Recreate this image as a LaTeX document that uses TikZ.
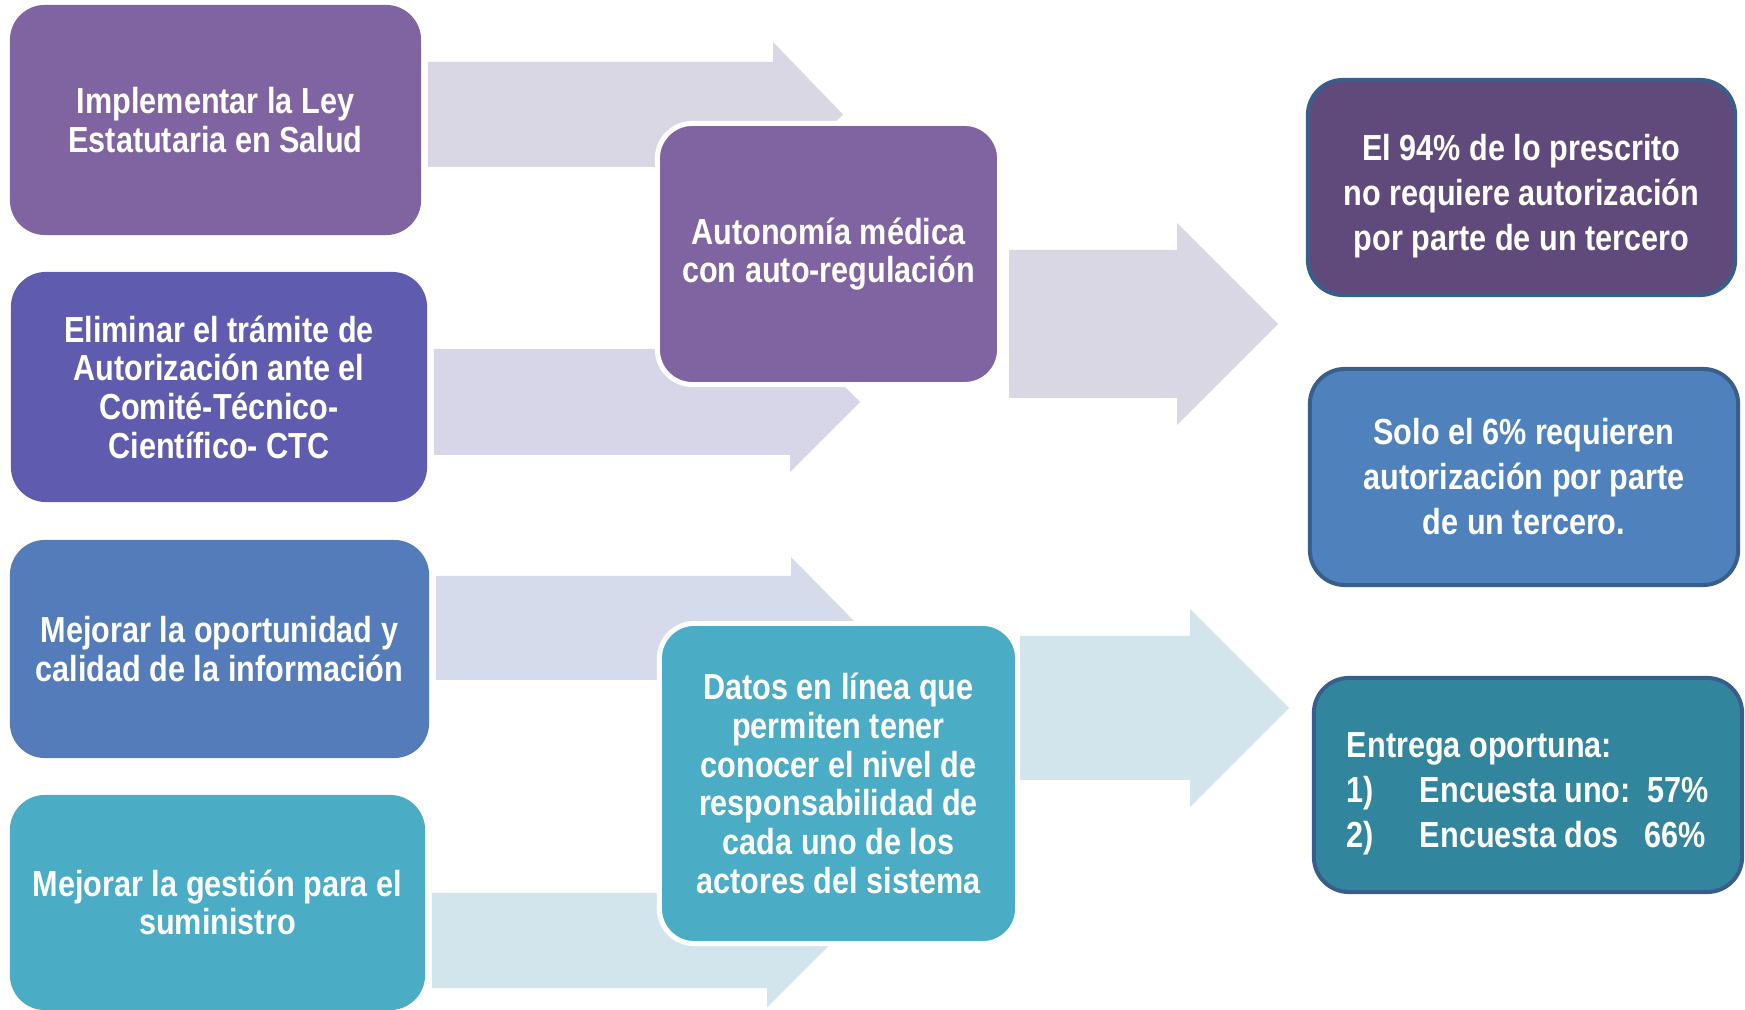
\documentclass[tikz,border=0pt]{standalone}
\usepackage{fontspec}
\setmainfont{Liberation Sans}[FakeStretch=0.845]
\usepackage{tikz}
\usetikzlibrary{calc,backgrounds}
\definecolor{lila}{HTML}{8064A2}
\definecolor{indigo}{HTML}{5F5BAE}
\definecolor{azul}{HTML}{547CBA}
\definecolor{aqua}{HTML}{4BACC6}
\definecolor{uva}{HTML}{604A7B}
\definecolor{cielo}{HTML}{4F81BD}
\definecolor{petroleo}{HTML}{31859C}
\definecolor{borde}{HTML}{3A5E8C}
\definecolor{fa}{HTML}{DAD7E5}
\definecolor{fb}{HTML}{D7D6E8}
\definecolor{fc}{HTML}{D5DBEA}
\definecolor{fd}{HTML}{D3E5EC}

\begin{document}
\begin{tikzpicture}[x=0.01cm, y=-0.01cm,
  caja/.style={rounded corners=0.35cm, inner sep=0pt, align=center, text=white,
    font=\bfseries\fontsize{10.3}{11}\selectfont},
  centro/.style={caja, draw=white, line width=0.05cm},
  meta/.style={caja, draw=borde, line width=0.04cm,
    font=\bfseries\fontsize{10.3}{12.8}\selectfont},
  flecha/.style n args={4}{to path={
    ($(\tikztostart)+(#1,-#2)$) -- ($(\tikztotarget)+(-#4,-#2)$)
    -- ($(\tikztotarget)+(-#4,-#3)$) -- (\tikztotarget)
    -- ($(\tikztotarget)+(-#4,#3)$) -- ($(\tikztotarget)+(-#4,#2)$)
    -- ($(\tikztostart)+(#1,#2)$) -- cycle}}]
\useasboundingbox (0,0) rectangle (1745,1010);

% objetivos
\node[caja, fill=lila, minimum width=4.11cm, minimum height=2.30cm] (imp) at (215.5,120) {Implementar la Ley\\Estatutaria en Salud};
\node[caja, fill=indigo, minimum width=4.16cm, minimum height=2.30cm] (elim) at (219,387) {Eliminar el trámite de\\Autorización ante el\\Comité-Técnico-\\Científico- CTC};
\node[caja, fill=azul, minimum width=4.19cm, minimum height=2.18cm] (mej) at (219.5,649) {Mejorar la oportunidad y\\calidad de la información};
\node[caja, fill=aqua, minimum width=4.15cm, minimum height=2.15cm] (sum) at (217.5,902.5) {Mejorar la gestión para el\\suministro};

% estrategias
\node[centro, fill=lila, minimum width=3.42cm, minimum height=2.61cm] (aut) at (828.5,254) {Autonomía médica\\con auto-regulación};
\node[centro, fill=aqua, minimum width=3.58cm, minimum height=3.20cm] (datos) at (838.5,783.5) {Datos en línea que\\permiten tener\\conocer el nivel de\\responsabilidad de\\cada uno de los\\actores del sistema};

% resultados
\node[meta, fill=uva, minimum width=4.27cm, minimum height=2.15cm] (pres) at (1521.5,187.5) {\rule{0pt}{12.3pt}El 94\% de lo prescrito\\no requiere autorización\\por parte de un tercero};
\node[meta, fill=cielo, minimum width=4.28cm, minimum height=2.16cm] (solo) at (1524,477) {Solo el 6\% requieren\\autorización por parte\\de un tercero.};
\node[meta, fill=petroleo, minimum width=4.28cm, minimum height=2.14cm, align=left] (entr) at (1528,785) {\rule{0pt}{12.3pt}Entrega oportuna:\\\makebox[0.73cm][l]{1)}Encuesta uno:\ \ 57\%\\\makebox[0.73cm][l]{2)}Encuesta dos\ \ \ 66\%};

\coordinate (t1) at (843,114.5);
\coordinate (t2) at (860,402);
\coordinate (t3) at (861,628);
\coordinate (t4) at (834,940.5);
\coordinate (t5) at (1278,324);
\coordinate (t6) at (1289,708);

\begin{scope}[on background layer]
\path[fill=fa, flecha={6}{52.5}{72.5}{70}] (imp.east |- t1) to (t1);
\path[fill=fb, flecha={6}{53}{70}{70}] (elim.east |- t2) to (t2);
\path[fill=fc, flecha={6}{52}{71}{70}] (mej.east |- t3) to (t3);
\path[fill=fd, flecha={6}{47.5}{67}{67}] (sum.east |- t4) to (t4);
\path[fill=fa, flecha={7}{74}{101}{101}] (aut.east |- t5) to (t5);
\path[fill=fd, flecha={0}{72}{99}{99}] (datos.east |- t6) to (t6);
\end{scope}
\end{tikzpicture}
\end{document}
